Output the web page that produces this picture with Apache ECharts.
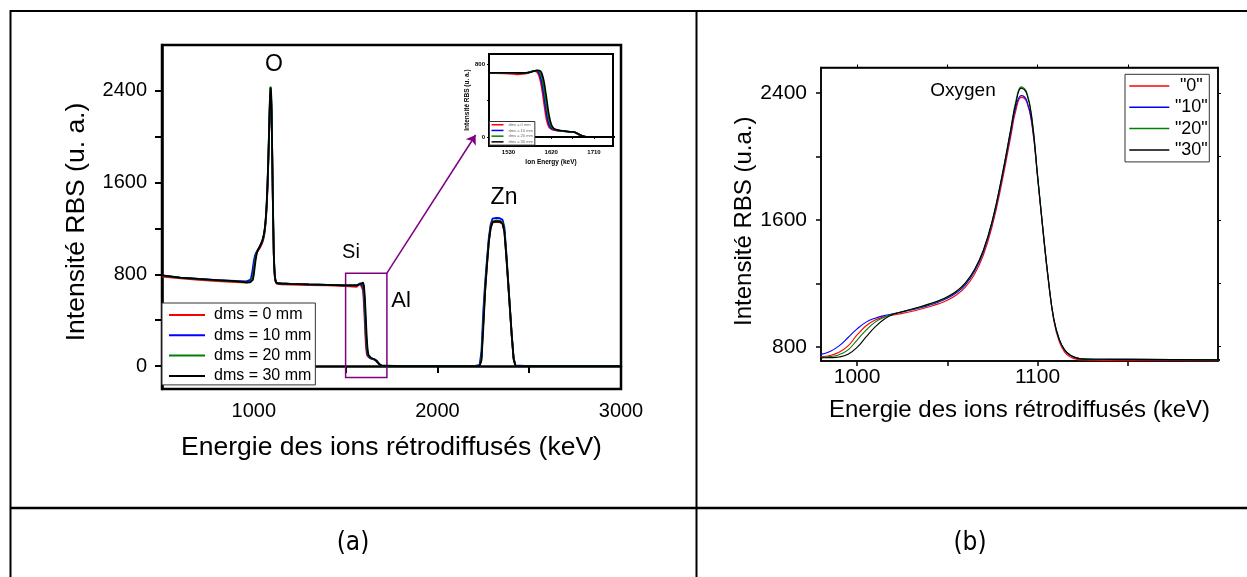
<!DOCTYPE html>
<html><head><meta charset="utf-8">
<script src="https://cdn.jsdelivr.net/npm/echarts@6/dist/echarts.min.js"></script>
<style>html,body{margin:0;padding:0;background:#fff}#c{width:1247px;height:577px}</style>
</head><body><div id="c"></div>
<script>
// ---------------- data ----------------
const energy = [500, 600, 700, 800, 900, 960, 970, 980, 985, 990,
  995, 1000, 1005, 1010, 1015, 1020, 1025, 1030, 1035, 1040,
  1045, 1050, 1055, 1060, 1065, 1070, 1075, 1080, 1085, 1088,
  1091, 1094, 1097, 1100, 1103, 1106, 1109, 1112, 1115, 1118,
  1122, 1126, 1135, 1150, 1200, 1300, 1400, 1500, 1540, 1550,
  1560, 1570, 1580, 1585, 1590, 1595, 1600, 1605, 1610, 1615,
  1620, 1625, 1630, 1640, 1650, 1660, 1670, 1680, 1690, 1700,
  1800, 2000, 2200, 2230, 2240, 2250, 2260, 2270, 2280, 2290,
  2300, 2320, 2340, 2355, 2365, 2375, 2385, 2395, 2405, 2415,
  2425, 2500, 2700, 3000];

const dms0 = [780, 764, 752, 742, 733, 728, 730, 737, 745, 765,
  805, 874, 932, 968, 988, 1000, 1010, 1022, 1036, 1052,
  1070, 1093, 1126, 1175, 1255, 1378, 1565, 1820, 2115, 2290,
  2372, 2342, 2190, 1865, 1525, 1212, 965, 832, 766, 737,
  720, 716, 714, 712, 711, 707, 703, 698, 692, 686,
  690, 700, 718, 722, 712, 660, 540, 360, 190, 110,
  85, 75, 70, 65, 60, 55, 48, 20, 3, 0,
  0, 0, 0, 0, 70, 380, 660, 880, 1080, 1200,
  1250, 1258, 1255, 1240, 1170, 960, 730, 490, 255, 60,
  0, 0, 0, 0];

const dms10 = [790, 772, 760, 750, 742, 738, 742, 752, 770, 805,
  858, 912, 955, 980, 996, 1008, 1020, 1032, 1046, 1062,
  1081, 1105, 1140, 1190, 1272, 1396, 1585, 1845, 2140, 2312,
  2383, 2352, 2200, 1875, 1535, 1220, 972, 845, 778, 748,
  728, 723, 721, 720, 717, 712, 708, 704, 704, 703,
  703, 706, 721, 726, 724, 690, 600, 440, 260, 140,
  95, 80, 72, 66, 60, 55, 48, 20, 3, 0,
  0, 0, 0, 10, 130, 480, 730, 930, 1120, 1235,
  1285, 1292, 1290, 1275, 1210, 1000, 750, 510, 270, 75,
  5, 0, 0, 0];

const dms20 = [788, 770, 758, 748, 738, 730, 731, 733, 738, 750,
  780, 842, 905, 955, 985, 1006, 1021, 1035, 1050, 1067,
  1087, 1112, 1147, 1199, 1282, 1406, 1597, 1858, 2160, 2350,
  2438, 2405, 2232, 1885, 1542, 1225, 975, 848, 780, 748,
  728, 722, 721, 720, 717, 712, 708, 704, 704, 703,
  703, 705, 720, 726, 728, 715, 660, 520, 340, 190,
  115, 88, 76, 68, 62, 56, 50, 24, 4, 0,
  0, 0, 0, 0, 80, 390, 690, 900, 1095, 1215,
  1262, 1270, 1268, 1250, 1180, 975, 742, 500, 262, 68,
  0, 0, 0, 0];

const dms30 = [790, 772, 760, 750, 740, 729, 729, 730, 731, 735,
  752, 796, 862, 925, 973, 1004, 1020, 1036, 1052, 1070,
  1090, 1115, 1150, 1203, 1285, 1410, 1600, 1860, 2160, 2335,
  2430, 2395, 2225, 1880, 1540, 1225, 975, 848, 780, 748,
  728, 722, 721, 720, 717, 712, 708, 704, 704, 703,
  703, 704, 716, 724, 730, 728, 700, 600, 430, 250,
  140, 95, 80, 70, 63, 57, 52, 26, 5, 0,
  0, 0, 0, 0, 50, 330, 650, 880, 1080, 1205,
  1255, 1262, 1260, 1242, 1172, 968, 740, 505, 270, 65,
  0, 0, 0, 0];

const seriesValues = [dms0, dms10, dms20, dms30];
const seriesNames = ['dms = 0 mm', 'dms = 10 mm', 'dms = 20 mm', 'dms = 30 mm'];
const zoomNames = ['"0"', '"10"', '"20"', '"30"'];

const mainXTicks = [500, 1000, 1500, 2000, 2500, 3000];
const mainXLabels = [1000, 2000, 3000];
const mainYTicks = [0, 400, 800, 1200, 1600, 2000, 2400];
const mainYLabels = [0, 800, 1600, 2400];
const zoomXTicks = [1000, 1050, 1100, 1150];
const zoomXLabels = [1000, 1100];
const zoomYTicks = [800, 1200, 1600, 2000, 2400];
const zoomYLabels = [800, 1600, 2400];
const insetXTicks = [1530, 1575, 1620, 1665, 1710];
const insetXLabels = [1530, 1620, 1710];
const insetYTicks = [0, 400, 800];
const insetYLabels = [0, 800];

const highlightBox = [[1500, -100], [1725, 810]];
const arrowEnd = [2208, 2015];

// ---------------- styles ----------------
const colors = ['#ff0000', '#0000ff', '#008000', '#000000'];
const FF = "'Liberation Sans', Arial, sans-serif";
const chart = echarts.init(document.getElementById('c'), null, {renderer: 'canvas'});

function pts(vals) { return energy.map((e, i) => [e, vals[i]]); }
const plain = v => String(v);

const series = [];
seriesValues.forEach((vals, k) => {
  const s = {
    name: seriesNames[k], type: 'line', xAxisIndex: 0, yAxisIndex: 0,
    data: pts(vals), showSymbol: false, symbol: 'none',
    lineStyle: {color: colors[k], width: 1.8}, itemStyle: {color: colors[k]},
    z: 3 + k, animation: false
  };
  if (k === 3) {
    s.markArea = {silent: true, itemStyle: {color: 'rgba(0,0,0,0)', borderColor: '#800080', borderWidth: 1.5},
      data: [[{coord: highlightBox[0]}, {coord: highlightBox[1]}]]};
    s.markLine = {silent: true, symbol: ['none', 'arrow'], symbolSize: 9, label: {show: false},
      lineStyle: {color: '#800080', width: 1.5, type: 'solid'}, animation: false,
      data: [[{coord: highlightBox[1]}, {coord: arrowEnd}]]};
  }
  series.push(s);
});
seriesValues.forEach((vals, k) => {
  series.push({
    name: zoomNames[k], type: 'line', xAxisIndex: 1, yAxisIndex: 1,
    data: pts(vals), showSymbol: false, symbol: 'none', smooth: 0.45,
    lineStyle: {color: colors[k], width: 1.1}, itemStyle: {color: colors[k]},
    z: 3 + k, animation: false
  });
});
seriesValues.forEach((vals, k) => {
  series.push({
    name: seriesNames[k], type: 'line', xAxisIndex: 3, yAxisIndex: 3,
    data: pts(vals), showSymbol: false, symbol: 'none', smooth: 0.25,
    lineStyle: {color: colors[k], width: 1.6}, itemStyle: {color: colors[k]},
    z: 13 + k, animation: false
  });
});

const tickFont = (size, bold) => ({color: '#000', fontSize: size, fontFamily: FF, fontWeight: bold ? 'bold' : 'normal'});

const option = {
  animation: false,
  backgroundColor: '#fff',
  grid: [
    {left: 162, top: 45, width: 459, height: 344, show: true, borderColor: '#000', borderWidth: 2.5, backgroundColor: 'transparent', outerBoundsMode: 'none'},
    {left: 821, top: 67.5, width: 397, height: 293.5, show: true, borderColor: '#000', borderWidth: 1.5, backgroundColor: 'transparent', outerBoundsMode: 'none'},
    {left: 489, top: 54, width: 124, height: 92, show: true, borderColor: '#000', borderWidth: 2, backgroundColor: '#fff', outerBoundsMode: 'none', z: 10}
  ],
  xAxis: [
    {gridIndex: 0, type: 'value', min: 500, max: 3000,
      name: 'Energie des ions rétrodiffusés (keV)', nameLocation: 'middle', nameGap: 45,
      nameTextStyle: tickFont(26.5),
      axisLine: {show: true, lineStyle: {color: '#000', width: 2.5}},
      axisTick: {show: true, length: 7, lineStyle: {width: 2, color: '#000'}, customValues: mainXTicks},
      axisLabel: {customValues: mainXLabels, margin: 12, formatter: plain, ...tickFont(20)},
      splitLine: {show: false}},
    {gridIndex: 1, type: 'value', min: 980, max: 1200,
      name: 'Energie des ions rétrodiffusés (keV)', nameLocation: 'middle', nameGap: 37,
      nameTextStyle: tickFont(24),
      axisLine: {show: true, lineStyle: {color: '#000', width: 1.5}},
      axisTick: {show: true, length: 5, lineStyle: {width: 1.5, color: '#000'}, customValues: zoomXTicks},
      axisLabel: {customValues: zoomXLabels, margin: 6, formatter: plain, ...tickFont(21)},
      splitLine: {show: false}},
    {gridIndex: 1, type: 'value', min: 980, max: 1200, position: 'top',
      axisLine: {show: true, lineStyle: {color: '#000', width: 1.5}},
      axisTick: {show: true, length: 3, lineStyle: {width: 1, color: '#000'}, customValues: zoomXTicks},
      axisLabel: {show: false}, splitLine: {show: false}},
    {gridIndex: 2, type: 'value', min: 1489, max: 1750, z: 20,
      name: 'Ion Energy (keV)', nameLocation: 'middle', nameGap: 12.5,
      nameTextStyle: tickFont(6.5, true),
      axisLine: {show: true, lineStyle: {color: '#000', width: 2}},
      axisTick: {show: true, length: 2, lineStyle: {width: 1, color: '#000'}, customValues: insetXTicks},
      axisLabel: {customValues: insetXLabels, margin: 3, formatter: plain, ...tickFont(6, true)},
      splitLine: {show: false}}
  ],
  yAxis: [
    {gridIndex: 0, type: 'value', min: -200, max: 2800,
      name: 'Intensité RBS (u. a.)', nameLocation: 'middle', nameGap: 72,
      nameTextStyle: {...tickFont(26.5), padding: [0, 10, 0, 0]},
      axisLine: {show: true, lineStyle: {color: '#000', width: 2.5}},
      axisTick: {show: true, length: 7, lineStyle: {width: 2, color: '#000'}, customValues: mainYTicks},
      axisLabel: {customValues: mainYLabels, margin: 15, formatter: plain, ...tickFont(20)},
      splitLine: {show: false}},
    {gridIndex: 1, type: 'value', min: 710, max: 2560,
      name: 'Intensité RBS (u.a.)', nameLocation: 'middle', nameGap: 61,
      nameTextStyle: {...tickFont(24), padding: [0, 14, 0, 0]},
      axisLine: {show: true, lineStyle: {color: '#000', width: 1.5}},
      axisTick: {show: true, length: 5, lineStyle: {width: 1.5, color: '#000'}, customValues: zoomYTicks},
      axisLabel: {customValues: zoomYLabels, margin: 14, formatter: plain, ...tickFont(21)},
      splitLine: {show: false}},
    {gridIndex: 1, type: 'value', min: 710, max: 2560, position: 'right',
      axisLine: {show: true, lineStyle: {color: '#000', width: 1.5}},
      axisTick: {show: true, length: 3, lineStyle: {width: 1, color: '#000'}, customValues: zoomYTicks},
      axisLabel: {show: false}, splitLine: {show: false}},
    {gridIndex: 2, type: 'value', min: -100, max: 910, z: 20,
      name: 'Intensité RBS (u. a.)', nameLocation: 'middle', nameGap: 16.5,
      nameTextStyle: tickFont(6.5, true),
      axisLine: {show: true, lineStyle: {color: '#000', width: 2}},
      axisTick: {show: true, length: 2, lineStyle: {width: 1, color: '#000'}, customValues: insetYTicks},
      axisLabel: {customValues: insetYLabels, margin: 4, formatter: plain, ...tickFont(6, true)},
      splitLine: {show: false}}
  ],
  legend: [
    {data: seriesNames, left: 162, top: 303, orient: 'vertical', icon: 'rect',
      itemWidth: 36, itemHeight: 2, itemGap: 4.3, padding: [4, 4, 1, 7],
      borderColor: '#333', borderWidth: 1, backgroundColor: '#fff', selectedMode: false,
      textStyle: {fontSize: 16, lineHeight: 16, fontFamily: FF, color: '#000', padding: [0, 0, 0, 4]}},
    {data: zoomNames, left: 1125, top: 74.3, orient: 'vertical', icon: 'rect',
      itemWidth: 40, itemHeight: 1.5, itemGap: 3.3, padding: [2.7, 1, 3, 4.3],
      borderColor: '#333', borderWidth: 1, backgroundColor: '#fff', selectedMode: false,
      formatter: '{c|{name}}',
      textStyle: {fontSize: 18, lineHeight: 18, fontFamily: FF, color: '#000',
        rich: {c: {width: 34, align: 'center', fontSize: 18, lineHeight: 18, fontFamily: FF, color: '#000'}}}},
    {data: seriesNames, left: 489.5, top: 121.5, orient: 'vertical', icon: 'rect', z: 30,
      itemWidth: 12, itemHeight: 1.5, itemGap: 1.2, padding: [1, 2, 1, 2],
      borderColor: '#333', borderWidth: 1, backgroundColor: '#fff', selectedMode: false,
      textStyle: {fontSize: 4, lineHeight: 4.5, fontFamily: FF, color: '#666'}}
  ],
  graphic: [
    {type: 'line', shape: {x1: 10.5, y1: 11, x2: 1247, y2: 11}, style: {stroke: '#000', lineWidth: 2}, silent: true},
    {type: 'line', shape: {x1: 10.5, y1: 10, x2: 10.5, y2: 577}, style: {stroke: '#000', lineWidth: 2}, silent: true},
    {type: 'line', shape: {x1: 696.5, y1: 10, x2: 696.5, y2: 577}, style: {stroke: '#000', lineWidth: 2}, silent: true},
    {type: 'line', shape: {x1: 10, y1: 508, x2: 1247, y2: 508}, style: {stroke: '#000', lineWidth: 2.5}, silent: true},
    {type: 'text', x: 353, y: 543, silent: true, style: {text: '(a)', font: "26px 'Liberation Sans Narrow', 'DejaVu Sans Condensed', sans-serif", fill: '#000', align: 'center', verticalAlign: 'middle', textAlign: 'center', textVerticalAlign: 'middle'}},
    {type: 'text', x: 970, y: 543, silent: true, style: {text: '(b)', font: "26px 'Liberation Sans Narrow', 'DejaVu Sans Condensed', sans-serif", fill: '#000', align: 'center', verticalAlign: 'middle', textAlign: 'center', textVerticalAlign: 'middle'}},
    {type: 'text', x: 274, y: 65, silent: true, style: {text: 'O', font: "23px " + FF, fill: '#000', align: 'center', verticalAlign: 'middle', textAlign: 'center', textVerticalAlign: 'middle'}},
    {type: 'text', x: 351, y: 252, silent: true, style: {text: 'Si', font: "20px " + FF, fill: '#000', align: 'center', verticalAlign: 'middle', textAlign: 'center', textVerticalAlign: 'middle'}},
    {type: 'text', x: 401, y: 301, silent: true, style: {text: 'Al', font: "22px " + FF, fill: '#000', align: 'center', verticalAlign: 'middle', textAlign: 'center', textVerticalAlign: 'middle'}},
    {type: 'text', x: 504, y: 198, silent: true, style: {text: 'Zn', font: "23px " + FF, fill: '#000', align: 'center', verticalAlign: 'middle', textAlign: 'center', textVerticalAlign: 'middle'}},
    {type: 'text', x: 963, y: 91, silent: true, style: {text: 'Oxygen', font: "19px " + FF, fill: '#000', align: 'center', verticalAlign: 'middle', textAlign: 'center', textVerticalAlign: 'middle'}}
  ],
  series: series
};
chart.setOption(option);
</script>
</body></html>
